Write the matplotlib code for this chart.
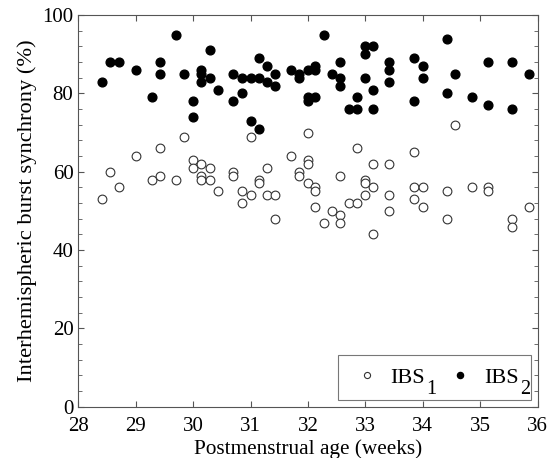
import matplotlib
matplotlib.use("Agg")
import matplotlib.pyplot as plt
from matplotlib.ticker import MultipleLocator
from matplotlib.transforms import IdentityTransform

# values
ibs1_age = [28.42, 28.56, 28.71, 29.0, 29.28, 29.42, 29.42, 29.71, 29.85, 30.0,
            30.0, 30.14, 30.14, 30.14, 30.29, 30.29, 30.43, 30.7, 30.7, 30.85,
            30.85, 31.0, 31.0, 31.14, 31.14, 31.28, 31.28, 31.43, 31.43, 31.71,
            31.85, 31.85, 32.0, 32.0, 32.0, 32.0, 32.13, 32.13, 32.13, 32.28,
            32.42, 32.56, 32.56, 32.56, 32.71, 32.85, 32.85, 33.0, 33.0, 33.0,
            33.14, 33.14, 33.14, 33.42, 33.42, 33.42, 33.85, 33.85, 33.85, 34.0,
            34.0, 34.42, 34.42, 34.56, 34.85, 35.14, 35.14, 35.56, 35.56, 35.85]
ibs1_val = [53, 60, 56, 64, 58, 66, 59, 58, 69, 63,
            61, 62, 59, 58, 61, 58, 55, 60, 59, 55,
            52, 69, 54, 58, 57, 61, 54, 54, 48, 64,
            60, 59, 70, 63, 62, 57, 56, 55, 51, 47,
            50, 59, 49, 47, 52, 66, 52, 58, 57, 54,
            62, 56, 44, 62, 54, 50, 65, 56, 53, 56,
            51, 55, 48, 72, 56, 56, 55, 48, 46, 51]

ibs2_age = [28.42, 28.56, 28.71, 29.0, 29.28, 29.42, 29.42, 29.71, 29.85, 30.0,
            30.0, 30.14, 30.14, 30.14, 30.29, 30.29, 30.43, 30.7, 30.7, 30.85,
            30.85, 31.0, 31.0, 31.14, 31.14, 31.14, 31.28, 31.28, 31.43, 31.43,
            31.71, 31.85, 31.85, 32.0, 32.0, 32.0, 32.13, 32.13, 32.13, 32.28,
            32.42, 32.56, 32.56, 32.56, 32.71, 32.85, 32.85, 33.0, 33.0, 33.0,
            33.14, 33.14, 33.14, 33.42, 33.42, 33.42, 33.85, 33.85, 34.0, 34.0,
            34.42, 34.42, 34.56, 34.85, 35.14, 35.14, 35.56, 35.56, 35.85]
ibs2_val = [83, 88, 88, 86, 79, 88, 85, 95, 85, 78,
            74, 86, 85, 83, 91, 84, 81, 85, 78, 84,
            80, 84, 73, 89, 84, 71, 87, 83, 85, 82,
            86, 85, 84, 86, 79, 78, 87, 86, 79, 95,
            85, 88, 84, 82, 76, 79, 76, 92, 90, 84,
            92, 81, 76, 88, 86, 83, 89, 78, 87, 84,
            94, 80, 85, 79, 88, 77, 88, 76, 85]

series_names = ['IBS', 'IBS']
series_subs = ['1', '2']

plt.rcParams['font.family'] = ['Liberation Serif', 'DejaVu Serif']

fig = plt.figure(figsize=(5.54, 4.58), dpi=100)
ax = fig.add_axes([0.1413, 0.112, 0.829, 0.855])

ax.plot(ibs1_age, ibs1_val, 'o', mfc='white', mec='#333333', mew=0.8,
        ms=6.3, ls='none', label=series_names[0])
ax.plot(ibs2_age, ibs2_val, 'o', mfc='black', mec='black',
        ms=6.3, ls='none', label=series_names[1])

ax.set_xlim(28, 36)
ax.set_ylim(0, 100)
ax.xaxis.set_major_locator(MultipleLocator(1))
ax.yaxis.set_major_locator(MultipleLocator(20))
ax.yaxis.set_minor_locator(MultipleLocator(4))
ax.tick_params(which='both', direction='in', top=True, right=True,
               labelsize=15)
ax.tick_params(axis='x', pad=7.5)
ax.tick_params(axis='y', pad=3.5)
ax.tick_params(which='major', length=4, color='#555555')
ax.tick_params(which='minor', length=3, color='#555555')
for s in ax.spines.values():
    s.set_linewidth(0.8)
    s.set_color('#555555')

ax.set_xlabel('Postmenstrual age (weeks)', fontsize=15.3, labelpad=2.5)
ax.set_ylabel('Interhemispheric burst synchrony (%)', fontsize=16.2,
              labelpad=4)

leg = ax.legend(loc='lower right', ncol=2, fontsize=16, markerscale=0.7,
                frameon=True, fancybox=False, borderaxespad=0.3,
                handletextpad=0.32, columnspacing=0.84, borderpad=0.55,
                handlelength=1.5)
leg.get_frame().set_edgecolor('#555555')
leg.get_frame().set_linewidth(0.8)

# subscripts drawn as full-size digits set below the baseline, as in the original
fig.canvas.draw()
r = fig.canvas.get_renderer()
tmp = fig.text(0, 0, series_names[0], fontsize=16)
name_w = tmp.get_window_extent(r).width
tmp.remove()
for t, sub in zip(leg.get_texts(), series_subs):
    x0, ybase = t.get_transform().transform(t.get_position())
    fig.text(x0 + name_w + 1.5, ybase - 11, sub, fontsize=14.5,
             ha='left', va='baseline', transform=IdentityTransform())

fig.savefig('out.png', dpi=100)
